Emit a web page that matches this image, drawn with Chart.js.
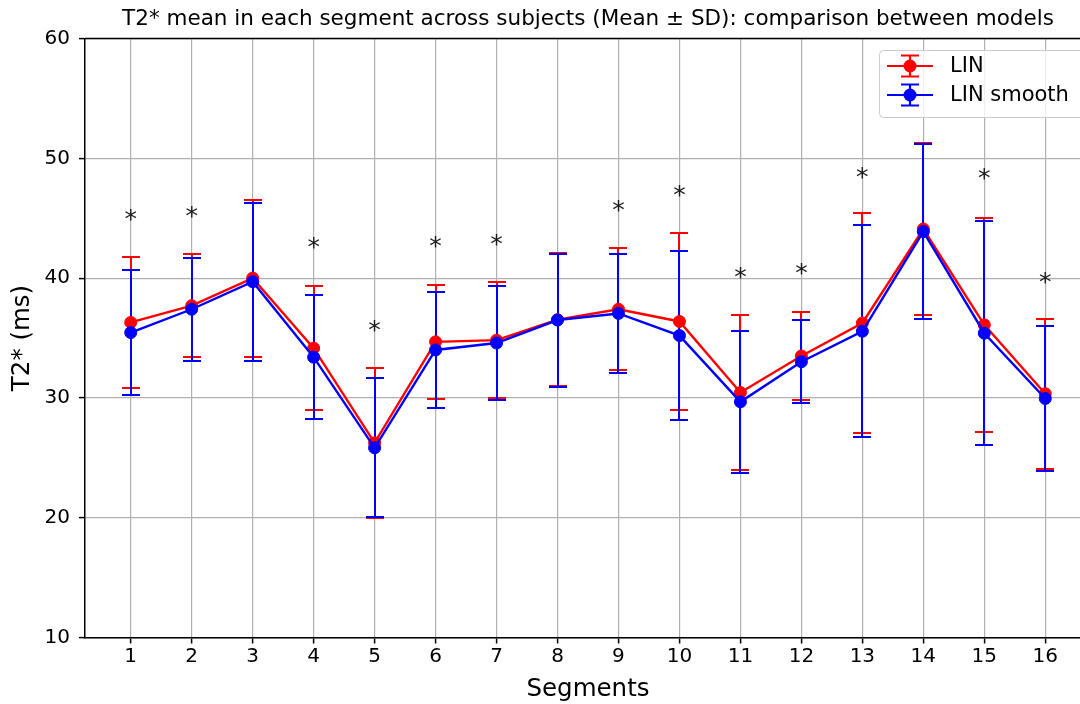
<!DOCTYPE html>
<html lang="en">
<head>
    <meta charset="UTF-8">
    <title>T2* mean in each segment</title>
    <script src="https://cdn.jsdelivr.net/npm/chart.js"></script>
    <style>
        html, body { margin: 0; padding: 0; background: #fff; overflow: hidden; width: 1080px; height: 704px; }
        #wrap { width: 1080px; height: 704px; overflow: hidden; position: relative; }
        #t2Chart { position: absolute; left: 0; top: 0; }
    </style>
</head>
<body>
    <div id="wrap"><canvas id="t2Chart" width="1091" height="704"></canvas></div>

    <script>
        // data
        const segments = [1, 2, 3, 4, 5, 6, 7, 8, 9, 10, 11, 12, 13, 14, 15, 16];
        const linMean = [36.3, 37.7, 40.0, 34.15, 26.25, 34.68, 34.82, 36.53, 37.4, 36.38, 30.45, 33.5, 36.25, 44.1, 36.1, 30.35];
        const linSD = [5.5, 4.3, 6.55, 5.2, 6.25, 4.78, 4.85, 5.55, 5.1, 7.4, 6.45, 3.7, 9.2, 7.2, 8.95, 6.25];
        const smoothMean = [35.45, 37.4, 39.7, 33.4, 25.83, 34.0, 34.58, 36.5, 37.05, 35.2, 29.67, 33.02, 35.56, 43.88, 35.4, 29.95];
        const smoothSD = [5.2, 4.3, 6.58, 5.17, 5.8, 4.82, 4.72, 5.55, 5.0, 7.06, 5.9, 3.48, 8.85, 7.3, 9.37, 6.02];
        const starSegments = [1, 2, 4, 5, 6, 7, 9, 10, 11, 12, 13, 15, 16];
        const starLevel = [45.25, 45.5, 42.9, 36.0, 43.0, 43.2, 46.0, 47.3, 40.4, 40.75, 48.8, 48.7, 40.05];
        const yTicks = [10, 20, 30, 40, 50, 60];

        const FONT = 'DejaVu Sans';

        // error bars: all of them go under the lines (red first, then blue)
        const errorBars = {
            id: 'errorBars',
            beforeDatasetsDraw(chart) {
                const { ctx, scales: { x, y } } = chart;
                chart.data.datasets.forEach(ds => {
                    ctx.save();
                    ctx.strokeStyle = ds.borderColor;
                    ctx.lineWidth = 2;
                    ds.data.forEach((p, i) => {
                        const px = Math.round(x.getPixelForValue(p.x));
                        const top = Math.round(y.getPixelForValue(p.y + ds.sd[i]));
                        const bot = Math.round(y.getPixelForValue(p.y - ds.sd[i]));
                        ctx.beginPath();
                        ctx.moveTo(px, top); ctx.lineTo(px, bot);
                        ctx.moveTo(px - 9, top); ctx.lineTo(px + 9, top);
                        ctx.moveTo(px - 9, bot); ctx.lineTo(px + 9, bot);
                        ctx.stroke();
                    });
                    ctx.restore();
                });
            }
        };

        // significance stars + top/right spines + legend
        const extras = {
            id: 'extras',
            afterDatasetsDraw(chart) {
                const { ctx, chartArea: a, scales: { x, y } } = chart;
                ctx.save();
                ctx.font = '25px "' + FONT + '"';
                ctx.fillStyle = '#1a1a1a';
                ctx.textAlign = 'center';
                ctx.textBaseline = 'alphabetic';
                const m = ctx.measureText('*');
                const shift = (m.actualBoundingBoxAscent - m.actualBoundingBoxDescent) / 2;
                starSegments.forEach((s, i) => {
                    ctx.fillText('*', x.getPixelForValue(s), y.getPixelForValue(starLevel[i]) + shift);
                });

                ctx.strokeStyle = '#000';
                ctx.lineWidth = 1.5;
                ctx.beginPath();
                ctx.moveTo(a.left, a.top);
                ctx.lineTo(a.right, a.top);
                ctx.lineTo(a.right, a.bottom);
                ctx.stroke();
                ctx.restore();
            },
            afterDraw(chart) {
                const { ctx, chartArea: a } = chart;
                const left = 879, top = 50, right = a.right - 7, bottom = 117, r = 4;
                ctx.save();
                ctx.fillStyle = 'rgba(255,255,255,0.8)';
                ctx.strokeStyle = '#cccccc';
                ctx.lineWidth = 1;
                ctx.beginPath();
                ctx.roundRect(left + 0.5, top + 0.5, right - left, bottom - top, r);
                ctx.fill();
                ctx.stroke();

                const rows = [66, 95];
                chart.data.datasets.forEach((ds, i) => {
                    const cy = rows[i], cx = 910;
                    ctx.strokeStyle = ds.borderColor;
                    ctx.fillStyle = ds.borderColor;
                    ctx.lineWidth = 2.2;
                    ctx.beginPath();
                    ctx.moveTo(cx, cy - 10.5); ctx.lineTo(cx, cy + 10.5);
                    ctx.moveTo(cx - 9, cy - 10.5); ctx.lineTo(cx + 9, cy - 10.5);
                    ctx.moveTo(cx - 9, cy + 10.5); ctx.lineTo(cx + 9, cy + 10.5);
                    ctx.moveTo(887, cy); ctx.lineTo(933, cy);
                    ctx.stroke();
                    ctx.beginPath();
                    ctx.arc(cx, cy, 6.5, 0, Math.PI * 2);
                    ctx.fill();

                    ctx.fillStyle = '#000';
                    ctx.font = '21px "' + FONT + '"';
                    ctx.textAlign = 'left';
                    ctx.textBaseline = 'middle';
                    ctx.fillText(ds.label, 950, cy + 1);
                });
                ctx.restore();
            }
        };

        const ctx = document.getElementById('t2Chart').getContext('2d');
        const t2Chart = new Chart(ctx, {
            type: 'line',
            data: {
                datasets: [
                    {
                        label: 'LIN',
                        data: segments.map((s, i) => ({ x: s, y: linMean[i] })),
                        sd: linSD,
                        borderColor: '#ff0000',
                        backgroundColor: '#ff0000',
                        borderWidth: 2.4,
                        pointRadius: 6,
                        pointBorderWidth: 1,
                        pointHoverRadius: 6,
                        order: 2
                    },
                    {
                        label: 'LIN smooth',
                        data: segments.map((s, i) => ({ x: s, y: smoothMean[i] })),
                        sd: smoothSD,
                        borderColor: '#0000ff',
                        backgroundColor: '#0000ff',
                        borderWidth: 2.4,
                        pointRadius: 6,
                        pointBorderWidth: 1,
                        pointHoverRadius: 6,
                        order: 1
                    }
                ]
            },
            options: {
                responsive: false,
                devicePixelRatio: 1,
                animation: false,
                events: [],
                layout: { padding: 0, autoPadding: false },
                plugins: {
                    legend: { display: false },
                    tooltip: { enabled: false },
                    title: {
                        display: true,
                        text: 'T2* mean in each segment across subjects (Mean ± SD): comparison between models',
                        fullSize: false,
                        color: '#000',
                        font: { family: FONT, size: 21.5, weight: 'normal', lineHeight: 1.2 },
                        padding: { top: 7, bottom: 5.7 }
                    }
                },
                scales: {
                    x: {
                        type: 'linear',
                        min: 0.25,
                        max: 16.75,
                        afterBuildTicks: s => { s.ticks = segments.map(v => ({ value: v })); },
                        afterFit: s => { s.height = 66.5; },
                        grid: { color: '#b0b0b0', lineWidth: 1.2, tickColor: '#000', tickLength: 6, tickWidth: 1.5 },
                        border: { color: '#000', width: 1.5 },
                        ticks: { color: '#000', font: { family: FONT, size: 20 }, padding: 1, autoSkip: false, maxRotation: 0 },
                        title: { display: true, text: 'Segments', color: '#000', font: { family: FONT, size: 24.5 }, padding: { top: 3.3, bottom: 0 } }
                    },
                    y: {
                        min: yTicks[0],
                        max: yTicks[yTicks.length - 1],
                        afterBuildTicks: s => { s.ticks = yTicks.map(v => ({ value: v })); },
                        afterFit: s => { s.width = 85; },
                        grid: { color: '#b0b0b0', lineWidth: 1.2, tickColor: '#000', tickLength: 6, tickWidth: 1.5 },
                        border: { color: '#000', width: 1.5 },
                        ticks: { color: '#000', font: { family: FONT, size: 20 }, padding: 9 },
                        title: { display: true, text: 'T2* (ms)', color: '#000', font: { family: FONT, size: 24.5 }, padding: { top: 7.8, bottom: 0 } }
                    }
                }
            },
            plugins: [errorBars, extras]
        });
    </script>
</body>
</html>
